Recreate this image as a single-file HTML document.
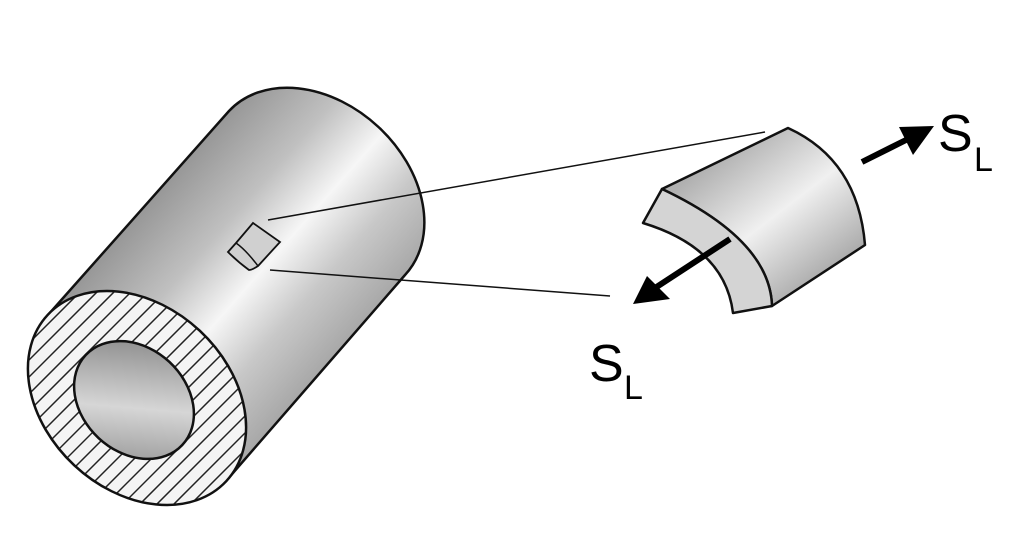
<!DOCTYPE html>
<html><head><meta charset="utf-8"><style>html,body{margin:0;padding:0;background:#fff}svg{display:block}</style></head><body>
<svg width="1024" height="541" viewBox="0 0 1024 541" xmlns="http://www.w3.org/2000/svg">
<defs>
<linearGradient id="body" gradientUnits="userSpaceOnUse" x1="50" y1="305" x2="246" y2="478">
<stop offset="0" stop-color="#949494"/><stop offset="0.3" stop-color="#c0c0c0"/><stop offset="0.52" stop-color="#f6f6f6"/><stop offset="0.72" stop-color="#c8c8c8"/><stop offset="1" stop-color="#a0a0a0"/>
</linearGradient>
<linearGradient id="hole" x1="0" y1="0" x2="1" y2="1">
<stop offset="0" stop-color="#7a7a7a"/><stop offset="0.55" stop-color="#d6d6d6"/><stop offset="1" stop-color="#8a8a8a"/>
</linearGradient>
<linearGradient id="seg" gradientUnits="userSpaceOnUse" x1="700" y1="170" x2="800" y2="300">
<stop offset="0" stop-color="#b0b0b0"/><stop offset="0.5" stop-color="#f0f0f0"/><stop offset="1" stop-color="#a8a8a8"/>
</linearGradient>
<clipPath id="face"><ellipse cx="137" cy="398" rx="122" ry="92" transform="rotate(43 137 398)"/></clipPath>
</defs>
<path d="M48,315 L229,111 A120,90 43 0 1 405,275 L226,481 Z" fill="url(#body)" stroke="#111" stroke-width="2.5" stroke-linejoin="round"/>
<ellipse cx="137" cy="398" rx="122" ry="92" transform="rotate(43 137 398)" fill="#f4f4f4"/>
<g clip-path="url(#face)">
<path stroke="#222" stroke-width="1.5" fill="none" d="M-250,520 l240,-240 M-233,520 l240,-240 M-216,520 l240,-240 M-199,520 l240,-240 M-182,520 l240,-240 M-165,520 l240,-240 M-148,520 l240,-240 M-131,520 l240,-240 M-114,520 l240,-240 M-97,520 l240,-240 M-80,520 l240,-240 M-63,520 l240,-240 M-46,520 l240,-240 M-29,520 l240,-240 M-12,520 l240,-240 M5,520 l240,-240 M22,520 l240,-240 M39,520 l240,-240 M56,520 l240,-240 M73,520 l240,-240 M90,520 l240,-240 M107,520 l240,-240 M124,520 l240,-240 M141,520 l240,-240 M158,520 l240,-240 M175,520 l240,-240 M192,520 l240,-240 M209,520 l240,-240 M226,520 l240,-240 M243,520 l240,-240 M260,520 l240,-240"/>
</g>
<ellipse cx="137" cy="398" rx="122" ry="92" transform="rotate(43 137 398)" fill="none" stroke="#111" stroke-width="2.5"/>
<ellipse cx="134" cy="400" rx="66" ry="52" transform="rotate(43 134 400)" fill="url(#hole)" stroke="#111" stroke-width="2.5"/>
<path d="M253,223 L280,242 L258,266 Q252,270 249,270 Q238,262 228,252 L236,243 Z" fill="#d0d0d0" stroke="#111" stroke-width="1.8"/>
<path d="M236,243 Q246,250 258,266" fill="none" stroke="#111" stroke-width="1.5"/>
<line x1="268" y1="220" x2="765" y2="132" stroke="#111" stroke-width="1.5"/>
<line x1="270" y1="270" x2="610" y2="296" stroke="#111" stroke-width="1.5"/>
<path d="M662,189 L788,128 Q858,160 865,245 L772,306 Q770,240 662,189 Z" fill="url(#seg)" stroke="#111" stroke-width="2.5" stroke-linejoin="round"/>
<path d="M662,189 Q770,240 772,306 L733,313 Q725,248 643,223 Z" fill="#d4d4d4" stroke="#111" stroke-width="2.5" stroke-linejoin="round"/>
<line x1="862" y1="162" x2="908" y2="139" stroke="#000" stroke-width="6"/>
<polygon points="934,126 899,127 913,155" fill="#000"/>
<line x1="730" y1="239" x2="655" y2="288" stroke="#000" stroke-width="6"/>
<polygon points="633,304 647,276 670,299" fill="#000"/>
<text x="938" y="151" font-family="Liberation Sans, sans-serif" font-size="52" fill="#000">S</text>
<text x="974" y="171" font-family="Liberation Sans, sans-serif" font-size="34" fill="#000">L</text>
<text x="589" y="381" font-family="Liberation Sans, sans-serif" font-size="52" fill="#000">S</text>
<text x="624" y="399" font-family="Liberation Sans, sans-serif" font-size="34" fill="#000">L</text>
</svg>
</body></html>
